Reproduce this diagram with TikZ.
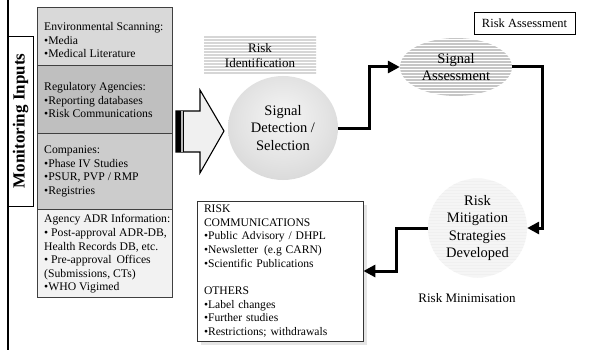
\documentclass[tikz,border=0pt]{standalone}
\usepackage{fontspec}
\setmainfont{Liberation Serif}
\usetikzlibrary{calc}
\usetikzlibrary{positioning}
\usetikzlibrary{arrows.meta}
\usetikzlibrary{shapes.geometric}
\usetikzlibrary{shadows}

\definecolor{envgray}{gray}{0.85}
\definecolor{reggray}{gray}{0.75}
\definecolor{comgray}{gray}{0.80}
\definecolor{adrgray}{gray}{0.95}
\pgfdeclareradialshading{detshade}{\pgfpoint{0bp}{6bp}}{color(0bp)=(gray!8); color(20bp)=(gray!22); color(50bp)=(gray!48)}

\begin{document}
\begin{tikzpicture}[x=1pt, y=-1pt, line join=miter,
        every node/.style={font=\fontsize{11.7}{13.6}\selectfont},
        inbox/.style={draw=black!75, line width=0.8pt, minimum width=135pt,
            minimum height=#1, inner sep=0pt, outer sep=0pt},
        intext/.style={anchor=west, align=left, inner sep=0pt},
        bigtext/.style={font=\fontsize{14.5}{17.5}\selectfont, align=center},
        stripes/.style 2 args={path picture={
            \foreach \k in {0,3,...,120}
                \draw[#1, line width=#2] ($(path picture bounding box.north west)+(-5,\k)$) -- ++(300,0);
        }},
        conn/.style={line width=3pt, -{Triangle[length=12pt,width=12pt]}},
        blockarrow/.style={fill=gray!12, draw=black, line width=1.1pt},
    ]
    \useasboundingbox[fill=white] (0,0) rectangle (591,350);

    %% monitoring inputs
    \coordinate (railtop) at (8,0);
    \coordinate (railbot) at (8,350);
    \draw[line width=2pt] (railtop) -- (railbot);

    \node (monbox) [draw, fill=white, line width=0.8pt, rotate=90, minimum width=170pt,
        minimum height=25pt, inner sep=0pt, font=\fontsize{17}{20}\bfseries] at (20.5,121) {Monitoring Inputs};

    \node (envbox) [inbox=58pt, fill=envgray, anchor=north west] at (37,7) {};
    \node (regbox) [inbox=68pt, fill=reggray, below=0pt of envbox] {};
    \node (combox) [inbox=76pt, fill=comgray, below=0pt of regbox] {};
    \node (adrbox) [inbox=88pt, fill=adrgray, below=0pt of combox] {};

    \node (envtext) [intext] at (44,40) {Environmental Scanning:\\•Media\\•Medical Literature};
    \node (regtext) [intext] at (44,100) {Regulatory Agencies:\\•Reporting databases\\•Risk Communications};
    \node (comtext) [intext] at (44,171.5) {Companies:\\•Phase IV Studies\\•PSUR, PVP / RMP\\•Registries};
    \node (adrtext) [intext] at (44,254) {Agency ADR Information:\\• Post-approval ADR-DB,\\Health Records DB, etc.\\• Pre-approval\, Offices\\(Submissions, CTs)\\•WHO Vigimed};

    %% feeding arrow
    \draw[blockarrow] (176,111) -- (200,111) -- (200,90) -- (224,131) -- (200,173)
        -- (200,152) -- (176,152) -- cycle;
    \fill (176,111) rectangle (180.5,152);
    \fill[gray!55] (180.5,111) rectangle (182.5,152);
    \draw[line width=0.7pt] (183,111) -- (183,152);

    %% risk identification
    \node (riskid) [rectangle, minimum width=112pt, minimum height=37pt, inner sep=0pt,
        stripes={gray!32}{1.8pt}, font=\fontsize{13}{15.5}\selectfont, align=center] at (260,55.5) {Risk\\Identification};

    \node (detect) [ellipse, minimum width=110pt, minimum height=104pt, inner sep=0pt,
        shading=detshade, bigtext] at (283,128) {Signal\\Detection /\\Selection};

    %% risk assessment
    \node (rabox) [draw, line width=0.8pt, minimum width=101pt, minimum height=22pt,
        inner sep=0pt, font=\fontsize{12.5}{15}\selectfont] at (524.5,23) {Risk Assessment};

    \node (assess) [ellipse, minimum width=112pt, minimum height=58pt, inner sep=0pt,
        fill=white, stripes={gray!45}{2.3pt}, bigtext] at (456,67) {Signal\\Assessment};

    %% risk minimisation
    \node (mitig) [circle, minimum size=99pt, inner sep=0pt, fill=gray!8,
        stripes={gray!12}{1.4pt}, bigtext] at (477.5,228) {Risk\\Mitigation\\Strategies\\Developed};

    \node (rmin) [font=\fontsize{13}{15}\selectfont] at (467,298) {Risk Minimisation};

    \node (comm) [draw=black!80, line width=0.8pt, fill=white, minimum width=166pt, minimum height=140pt,
        text width=152pt, inner xsep=7pt, align=left,
        drop shadow={shadow xshift=4pt, shadow yshift=-4pt, fill=gray!20, opacity=1},
        font=\fontsize{11.6}{13.7}\selectfont] at (280,271)
        {RISK\\COMMUNICATIONS\\•Public Advisory / DHPL\\•Newsletter\, (e.g CARN)\\•Scientific Publications\\[13.7pt]
         OTHERS\\•Label changes\\•Further studies\\•Restrictions; withdrawals};

    \draw[conn] (detect.east) -- ++(31,0) |- (assess.west);
    \draw[conn] (assess.east) -- ++(30,0) |- (mitig.east);
    \draw[conn] (mitig.west) -- ++(-31,0) |- (comm.east);

\end{tikzpicture}
\end{document}
